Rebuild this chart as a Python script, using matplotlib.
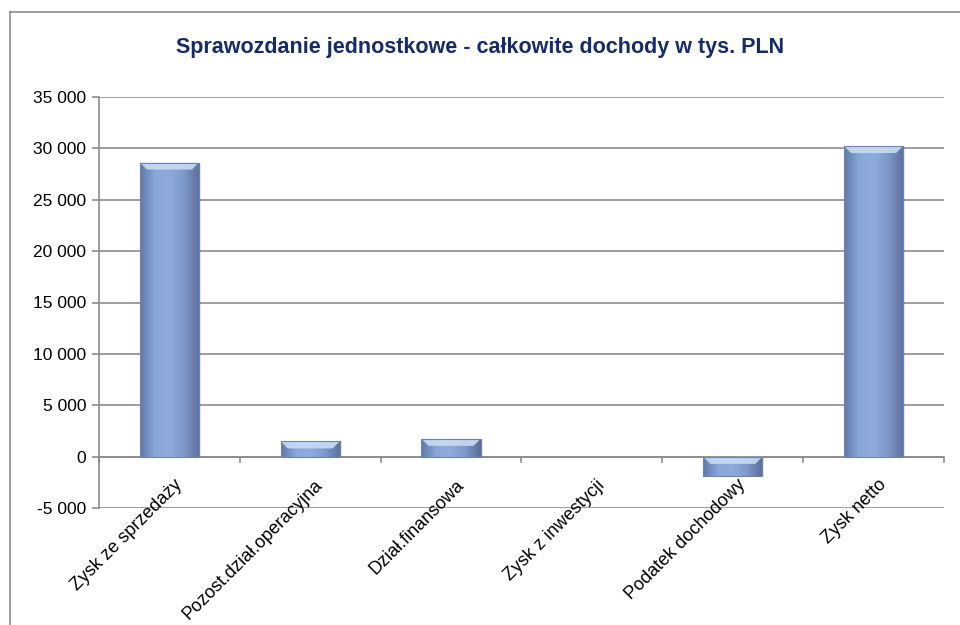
from matplotlib import pyplot as plt
from matplotlib.patches import Polygon
from matplotlib.colors import LinearSegmentedColormap
from matplotlib.ticker import FuncFormatter
import numpy as np

categories = ['Zysk ze sprzedaży', 'Pozost.dział.operacyjna', 'Dział.finansowa',
              'Zysk z inwestycji', 'Podatek dochodowy', 'Zysk netto']
values = [28600, 1500, 1750, 0, -1820, 30200]
yticks = [-5000, 0, 5000, 10000, 15000, 20000, 25000, 30000, 35000]

plt.rcParams['font.family'] = ['Liberation Sans', 'DejaVu Sans']

fig = plt.figure(figsize=(9.6, 6.25), dpi=100)
ax = fig.add_axes([0.1031, 0.1867, 0.8802, 0.6586])

# chart border: only top and left visible (picture is cropped)
fig.add_artist(plt.Line2D([10/960, 1.0], [1 - 12/625, 1 - 12/625], transform=fig.transFigure,
                          color='#8c8c8c', linewidth=1.2))
fig.add_artist(plt.Line2D([10/960, 10/960], [0, 1 - 12/625], transform=fig.transFigure,
                          color='#8c8c8c', linewidth=1.2))

grad = LinearSegmentedColormap.from_list('bar', ['#5f79aa', '#8aa7d9', '#8fabdc', '#7c97c8', '#5b6f98'])
w = 0.42
upp = 5000 / 51.45   # data units per pixel
x = np.arange(len(categories))
for xi, v in zip(x, values):
    if v == 0:
        continue
    lo, hi = min(0, v), max(0, v)
    # soft shadow
    ax.bar(xi + 0.008, v, bottom=0, width=w + 0.012, color='#000000', alpha=0.08, linewidth=0, zorder=2)
    rect = ax.bar(xi, v, width=w, color='none', edgecolor='#6d84b0', linewidth=0.8, zorder=4)[0]
    im = ax.imshow(np.linspace(0, 1, 64).reshape(1, -1), extent=[xi - w/2, xi + w/2, lo, hi],
                   aspect='auto', cmap=grad, zorder=3, interpolation='bicubic')
    im.set_clip_path(rect)
    # light bevel along the top edge
    bh = min(7 * upp, (hi - lo) * 0.55)
    inset = w * 0.12
    ax.add_patch(Polygon([[xi - w/2, hi], [xi + w/2, hi], [xi + w/2 - inset, hi - bh],
                          [xi - w/2 + inset, hi - bh]], closed=True,
                         facecolor='#c9dbf4', edgecolor='none', alpha=0.9, zorder=3.5))

ax.set_xlim(-0.5, len(categories) - 0.5)
ax.set_ylim(-5000, 35000)
ax.set_yticks(yticks)
ax.yaxis.set_major_formatter(FuncFormatter(lambda v, p: f'{int(v):,}'.replace(',', ' ')))
ax.grid(axis='y', color='#8c8c8c', linewidth=1.2, zorder=0)
ax.set_axisbelow(True)

for s in ['top', 'right', 'bottom']:
    ax.spines[s].set_visible(False)
ax.spines['left'].set_color('#8c8c8c')
ax.spines['left'].set_linewidth(1.2)
ax.axhline(0, color='#8c8c8c', linewidth=1.2, zorder=2)

ax.set_xticks(np.arange(-0.5, len(categories)))
ax.set_xticklabels([])
ax.tick_params(axis='x', length=0)
ax.tick_params(axis='y', length=5, width=1.2, color='#8c8c8c', labelsize=12.5, direction='out', pad=4)
for b in np.arange(-0.5, len(categories)):
    ax.plot([b, b], [0, -5 * upp], color='#8c8c8c', linewidth=1.2, zorder=2, clip_on=False)

for xi, lab in zip(x, categories):
    ax.annotate(lab, xy=(xi, 0), xycoords='data', xytext=(3, -14), textcoords='offset points',
                rotation=45, ha='right', va='top', fontsize=13, rotation_mode='anchor')

fig.text(0.5, 1 - 47/625, 'Sprawozdanie jednostkowe - całkowite dochody w tys. PLN',
         ha='center', va='center', fontsize=15.5, fontweight='bold', color='#142c6a')

plt.savefig('out.png')
